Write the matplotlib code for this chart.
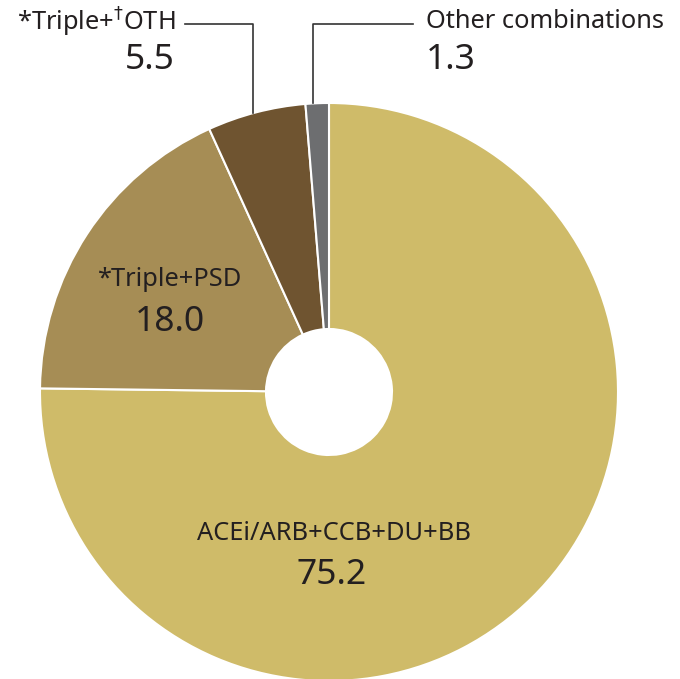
import matplotlib
matplotlib.use("Agg")
import matplotlib.pyplot as plt

# shares of combination therapy (%)
labels = ["ACEi/ARB+CCB+DU+BB", "*Triple+PSD", r"*Triple+$^{\dagger}$OTH", "Other combinations"]
values = [75.2, 18.0, 5.5, 1.3]
colors = ["#CFBB69", "#A68D55", "#6F5430", "#6D6E70"]

W, H = 680, 679
txt = "#231F20"
plt.rcParams['font.family'] = ['Noto Sans', 'DejaVu Sans']

fig = plt.figure(figsize=(W / 100, H / 100), dpi=100)
ax = fig.add_axes([0, 0, 1, 1])

cx, cy, R, r_in = 329, H - 392, 289, 63
ax.pie(values, colors=colors, startangle=90, counterclock=False,
       radius=R, center=(cx, cy), frame=True,
       wedgeprops=dict(width=R - r_in, edgecolor="white", linewidth=1.5))
ax.set_xlim(0, W)
ax.set_ylim(0, H)
ax.set_aspect("equal")
ax.axis("off")

lsz, nsz = 18.3, 25.5

# labels inside the wedges
ax.text(334, H - 533, labels[0], ha="center", va="center", fontsize=lsz, color=txt)
ax.text(332, H - 575, "%.1f" % values[0], ha="center", va="center", fontsize=nsz, color=txt)
ax.text(170, H - 280, labels[1], ha="center", va="center", fontsize=lsz, color=txt)
ax.text(170, H - 322, "%.1f" % values[1], ha="center", va="center", fontsize=nsz, color=txt)

# outside labels with leader lines
ax.text(175, H - 22, labels[2], ha="right", va="center", fontsize=lsz, color=txt)
ax.text(175, H - 60, "%.1f" % values[2], ha="right", va="center", fontsize=nsz, color=txt)
ax.plot([185, 253, 253], [H - 24, H - 24, H - 113], color="#333333", lw=1.2)

ax.text(426, H - 22, labels[3], ha="left", va="center", fontsize=lsz, color=txt)
ax.text(426, H - 60, "%.1f" % values[3], ha="left", va="center", fontsize=nsz, color=txt)
ax.plot([413, 313, 313], [H - 24, H - 24, H - 103], color="#333333", lw=1.2)

fig.savefig("out.png", dpi=100)
